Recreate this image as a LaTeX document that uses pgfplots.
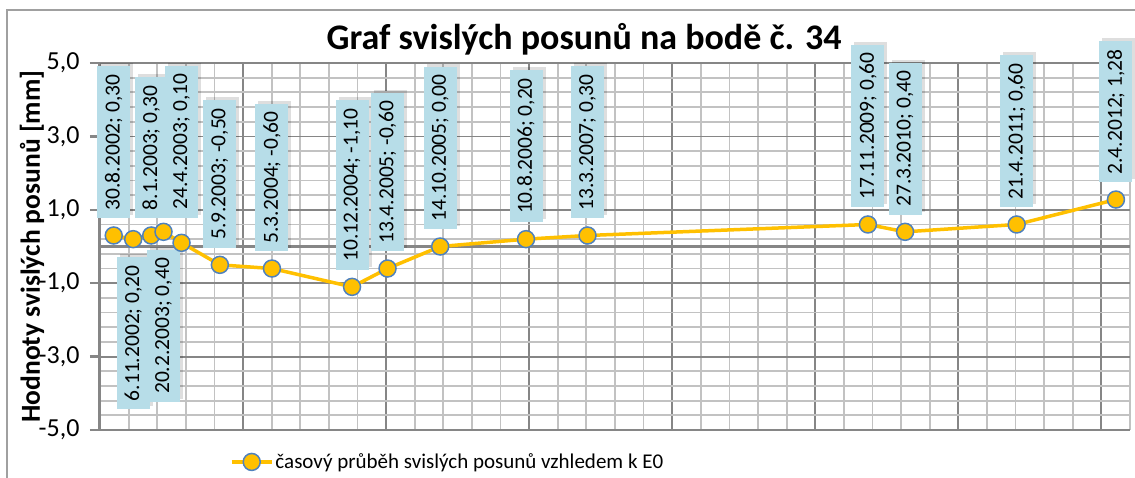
\documentclass[border=0pt]{standalone}
\usepackage{fontspec}
\setmainfont{Carlito}
\usepackage{pgfplots}
\pgfplotsset{compat=1.18}
\usepackage{pgfplotstable}
\definecolor{ygold}{RGB}{255,192,0}
\definecolor{mblue}{RGB}{79,129,189}
\definecolor{lblue}{RGB}{183,221,232}
\definecolor{majgrid}{RGB}{134,134,134}
\definecolor{mingrid}{RGB}{194,194,194}
\definecolor{axgray}{RGB}{134,134,134}
\definecolor{framec}{RGB}{160,160,160}

% x = Excel serial date, y = displacement [mm], grp = label placement (1 above, 2 below, 3 above far)
\pgfplotstableread{
x y label grp
37498 0.30 {30.8.2002; 0,30} 1
37566 0.20 {6.11.2002; 0,20} 2
37629 0.30 {8.1.2003; 0,30} 1
37672 0.40 {20.2.2003; 0,40} 2
37735 0.10 {24.4.2003; 0,10} 3
37869 -0.50 {5.9.2003; -0,50} 1
38051 -0.60 {5.3.2004; -0,60} 1
38331 -1.10 {10.12.2004; -1,10} 1
38455 -0.60 {13.4.2005; -0,60} 1
38639 0.00 {14.10.2005; 0,00} 1
38939 0.20 {10.8.2006; 0,20} 1
39154 0.30 {13.3.2007; 0,30} 1
40134 0.60 {17.11.2009; 0,60} 1
40264 0.40 {27.3.2010; 0,40} 1
40654 0.60 {21.4.2011; 0,60} 1
41001 1.28 {2.4.2012; 1,28} 1
}\data

\tikzset{
  lab/.style={fill=lblue, text=black, rotate=90,
    inner xsep=8pt, inner ysep=0pt, minimum height=33pt, font=\fontsize{21.5}{25}\selectfont},
}

\begin{document}
\begin{tikzpicture}
\path[use as bounding box] (0pt,0pt) rectangle (1135pt,-477pt);
\draw[framec, line width=1.5pt] (7pt,-490pt) -- (7pt,-10pt) -- (1150pt,-10pt);
\begin{axis}[
  at={(100pt,-430pt)}, anchor=south west,
  scale only axis, width=1030pt, height=367pt,
  xmin=37450, xmax=41050, ymin=-5, ymax=5,
  axis lines*=left,
  x axis line style={draw=majgrid, line width=1.8pt, -},
  y axis line style={draw=axgray, line width=3pt, -},
  xtick={37450,37950,38450,38950,39450,39950,40450,40950},
  xticklabels={},
  scaled x ticks=false,
  xtick style={draw=none},
  minor xtick={37550,37650,37750,37850,38050,38150,38250,38350,38550,38650,38750,38850,39050,39150,39250,39350,39550,39650,39750,39850,40050,40150,40250,40350,40550,40650,40750,40850,41050},
  ytick={-5,-3,-1,1,3,5},
  minor ytick={-4.6,-4.2,-3.8,-3.4,-2.6,-2.2,-1.8,-1.4,-0.6,-0.2,0.2,0.6,1.4,1.8,2.2,2.6,3.4,3.8,4.2,4.6},
  grid=both,
  major grid style={draw=majgrid, line width=1.8pt},
  minor grid style={draw=mingrid, line width=1.8pt},
  tick style={draw=axgray, line width=2.5pt},
  tick align=outside, major tick length=10pt, minor tick length=0pt,
  y tick label style={font=\fontsize{26}{30}\selectfont, text=black, xshift=-7pt},
  /pgf/number format/fixed, /pgf/number format/fixed zerofill,
  /pgf/number format/precision=1, /pgf/number format/use comma,
  /pgf/number format/assume math mode=true,
  clip=false,
  title={Graf svislých posunů na bodě č. 34},
  every axis title/.style={at={(axis description cs:0.47,1.038)}, anchor=base, font=\bfseries\fontsize{36}{40}\selectfont},
  ylabel={Hodnoty svislých posunů [mm]},
  every axis y label/.style={at={(axis description cs:-0.066,0.5)}, rotate=90, anchor=center, font=\bfseries\fontsize{27.5}{30}\selectfont},
  legend style={at={(axis description cs:0.126,-0.087)}, anchor=west, draw=none, fill=none, font=\fontsize{21}{25}\selectfont, inner sep=0pt},
  legend image code/.code={\draw[#1] (0pt,0pt) -- (40pt,0pt); \draw[#1] plot coordinates {(20pt,0pt)};},
]
% horizontal axis crossing at zero
\addplot[axgray, line width=3pt, forget plot] coordinates {(37450,0) (41050,0)};
\addplot[ygold, line width=3.5pt, mark=*, mark size=8.5pt,
  mark options={fill=ygold, draw=mblue, line width=1.5pt}]
  table[x=x, y=y] {\data};
\addlegendentry{časový průběh svislých posunů vzhledem k E0}
% data labels, read row by row from the table
\pgfplotsinvokeforeach{0,...,15}{
  \pgfplotstablegetelem{#1}{x}\of{\data}\let\labx\pgfplotsretval
  \pgfplotstablegetelem{#1}{y}\of{\data}\let\laby\pgfplotsretval
  \pgfplotstablegetelem{#1}{label}\of{\data}\let\labt\pgfplotsretval
  \pgfplotstablegetelem{#1}{grp}\of{\data}\let\labg\pgfplotsretval
  \ifnum\labg=2 \def\labanch{east}\def\labsh{-18pt}%
  \else\def\labanch{west}\ifnum\labg=3 \def\labsh{25pt}\else\def\labsh{17pt}\fi\fi
  \edef\labcmd{%
    \noexpand\node[yshift=\labsh+3pt, xshift=3pt, lab, fill=black, fill opacity=0.13, text opacity=0, anchor=\labanch] at (axis cs:\labx,\laby) {\labt};
    \noexpand\node[yshift=\labsh, lab, anchor=\labanch] at (axis cs:\labx,\laby) {\labt};}
  \labcmd
}
\end{axis}
\end{tikzpicture}
\end{document}
